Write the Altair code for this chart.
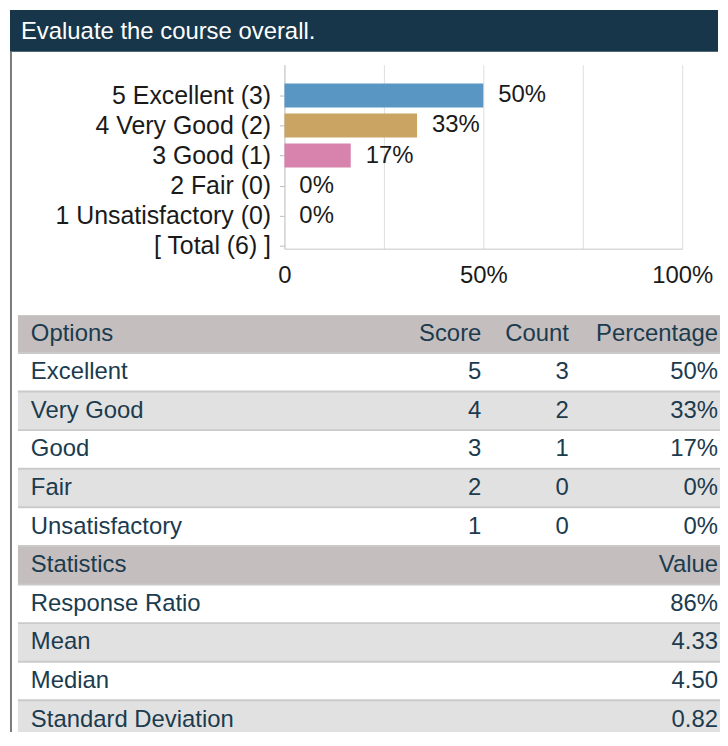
import altair as alt
import pandas as pd

FONT = "Liberation Sans"

# ---- data ----
title_text = ["Evaluate the course overall."]

bar_labels = ["5 Excellent (3)", "4 Very Good (2)", "3 Good (1)", "2 Fair (0)",
              "1 Unsatisfactory (0)", "[ Total (6) ]"]
bar_pct = [50.0, 33.33, 16.67, 0.0, 0.0, None]
bar_text = ["50%", "33%", "17%", "0%", "0%", ""]
bar_colors = ["#5a96c3", "#c9a462", "#d783ad", "#999999", "#999999"]

x_ticks = [0, 25, 50, 75, 100]

options = ["Excellent", "Very Good", "Good", "Fair", "Unsatisfactory"]
scores = [5, 4, 3, 2, 1]
counts = [3, 2, 1, 0, 0]
percentages = ["50%", "33%", "17%", "0%", "0%"]
option_headers = ["Options", "Score", "Count", "Percentage"]

stat_names = ["Response Ratio", "Mean", "Median", "Standard Deviation"]
stat_values = ["86%", "4.33", "4.50", "0.82"]
stat_headers = ["Statistics", "", "", "Value"]

# ---- tables built from the arrays ----
bar_df = pd.DataFrame({"label": bar_labels, "pct": bar_pct, "txt": bar_text})

rows = [dict(row=0, kind="head", c0=option_headers[0], c1=option_headers[1],
             c2=option_headers[2], c3=option_headers[3])]
for i, (o, s, c, p) in enumerate(zip(options, scores, counts, percentages)):
    rows.append(dict(row=i + 1, kind="white" if i % 2 == 0 else "gray",
                     c0=o, c1=str(s), c2=str(c), c3=p))
rows.append(dict(row=6, kind="head", c0=stat_headers[0], c1=stat_headers[1],
                 c2=stat_headers[2], c3=stat_headers[3]))
for j, (n, v) in enumerate(zip(stat_names, stat_values)):
    rows.append(dict(row=7 + j, kind="white" if j % 2 == 0 else "gray",
                     c0=n, c1="", c2="", c3=v))
table_df = pd.DataFrame(rows)

TEXT_DARK = "#1a1a1a"
TABLE_TEXT = "#1b3b4e"

# ---- header ----
header = alt.Chart(pd.DataFrame({"t": title_text})).mark_text(
    align="left", baseline="middle", fontSize=24, color="white", font=FONT, dy=1
).encode(
    text="t:N", x=alt.value(11)
).properties(width=712, height=42, view=alt.ViewBackground(fill="#17364a"))

# ---- left border ----
border = alt.Chart(pd.DataFrame({"a": [0]})).mark_point(opacity=0).properties(
    width=2, height=684, view=alt.ViewBackground(fill="#7b7b7b"))

# ---- spacer ----
spacer = alt.Chart(pd.DataFrame({"a": [0]})).mark_point(opacity=0).properties(
    width=706, height=13)

# ---- bar chart ----
yb = alt.Y("label:N", sort=bar_labels, title=None,
           scale=alt.Scale(type="point", domain=bar_labels, padding=0.563, align=0.91),
           axis=alt.Axis(offset=-268, labelFontSize=25, labelColor=TEXT_DARK,
                         labelFont=FONT, tickColor="#bdbdbd", tickSize=5,
                         labelPadding=9, domainColor="#c8c8c8", grid=False,
                         labelLimit=0))
xb = alt.X("pct:Q", title=None,
           scale=alt.Scale(domain=[0, 100], range=[268, 668], nice=False),
           axis=alt.Axis(values=x_ticks, grid=True, gridColor="#dedede",
                         domainColor="#c8c8c8", ticks=False, labelFontSize=24,
                         labelColor=TEXT_DARK, labelFont=FONT, labelPadding=15,
                         labelFlush=False,
                         labelExpr="datum.value == 0 ? '0' : (datum.value == 50 || datum.value == 100) ? datum.value + '%' : ''"))

bars = alt.Chart(bar_df).transform_filter("datum.pct > 0").mark_bar(size=24).encode(
    x=xb, y=yb,
    color=alt.Color("label:N", scale=alt.Scale(domain=bar_labels[:5], range=bar_colors),
                    legend=None))
bar_text_layer = alt.Chart(bar_df).transform_filter("isValid(datum.pct)").mark_text(
    align="left", baseline="middle", dx=15, fontSize=24, color=TEXT_DARK, font=FONT
).encode(x=xb, y=yb, text="txt:N")

bar_chart = alt.layer(bars, bar_text_layer).properties(width=706, height=185)

# ---- table ----
yt = alt.Y("row:O", axis=None,
           scale=alt.Scale(paddingInner=0.05, paddingOuter=0, range=[0, 425]))
rect = alt.Chart(table_df).mark_rect(strokeWidth=0, clip=True).encode(
    y=yt,
    fill=alt.Fill("kind:N", scale=alt.Scale(domain=["head", "white", "gray"],
                                            range=["#c4bebe", "#ffffff", "#e2e1e1"]),
                  legend=None))


def col(field, xpos, align):
    return alt.Chart(table_df).mark_text(
        align=align, baseline="middle", fontSize=24, color=TABLE_TEXT, font=FONT
    ).encode(y=yt, x=alt.value(xpos), text=f"{field}:N")


table = alt.layer(
    rect,
    col("c0", 13, "left"),
    col("c1", 466, "right"),
    col("c2", 554, "right"),
    col("c3", 704, "right"),
).properties(width=706, height=419, view=alt.ViewBackground(fill="#cbc9c9"))

inner = alt.vconcat(bar_chart, table, spacing=28).resolve_scale(
    color="independent", fill="independent", x="independent", y="independent")
right = alt.vconcat(spacer, inner, spacing=0)
body = alt.hconcat(border, right, spacing=4)

chart = alt.vconcat(header, body, spacing=0).properties(
    padding=0, background="white"
).configure_view(strokeWidth=0).configure_text(font=FONT)

chart.save("out.html", embed_options={"renderer": "svg", "actions": False})
